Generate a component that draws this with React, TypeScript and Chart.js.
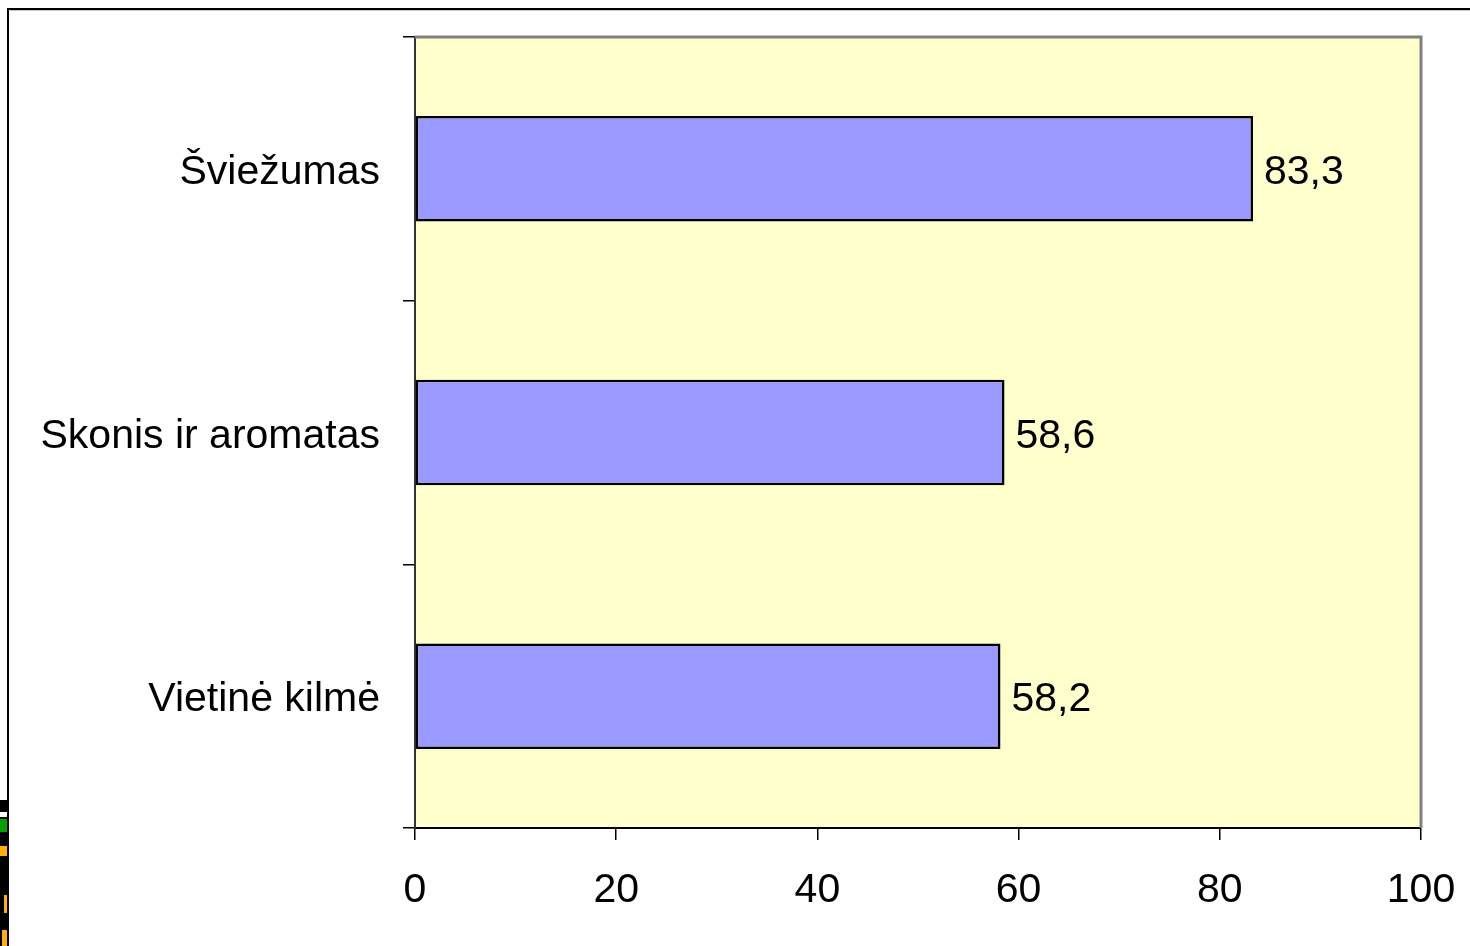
import React, { useEffect, useRef } from "react";
import { Chart, registerables } from "chart.js";

Chart.register(...registerables);

const categories = ["Šviežumas", "Skonis ir aromatas", "Vietinė kilmė"];
const values = [83.3, 58.6, 58.2];
const valueLabels = ["83,3", "58,6", "58,2"];
const xTicks = [0, 20, 40, 60, 80, 100];

const FONT = "'Liberation Sans', Arial, sans-serif";

const framePlugin = {
  id: "frame",
  beforeDraw(chart: any) {
    const { ctx, chartArea } = chart;
    ctx.save();
    ctx.fillStyle = "#ffffff";
    ctx.fillRect(0, 0, chart.width, chart.height);
    ctx.fillStyle = "#FFFFCC";
    ctx.fillRect(chartArea.left, chartArea.top, chartArea.right - chartArea.left, chartArea.bottom - chartArea.top);
    ctx.strokeStyle = "#000";
    ctx.lineWidth = 2;
    ctx.beginPath();
    ctx.moveTo(8, chart.height);
    ctx.lineTo(8, 9);
    ctx.lineTo(chart.width, 9);
    ctx.stroke();
    ctx.strokeStyle = "#c8c8c8";
    ctx.lineWidth = 1;
    ctx.beginPath();
    ctx.moveTo(10, 10.5);
    ctx.lineTo(chart.width, 10.5);
    ctx.stroke();
    ctx.fillStyle = "#000";
    ctx.fillRect(0, 800, 7, 146);
    ctx.fillStyle = "#ffffff";
    ctx.fillRect(0, 812, 7, 5);
    ctx.fillStyle = "#00a000";
    ctx.fillRect(0, 819, 7, 13);
    ctx.fillStyle = "#ffb000";
    ctx.fillRect(0, 846, 7, 10);
    ctx.fillRect(4, 895, 3, 18);
    ctx.fillRect(2, 930, 5, 16);
    ctx.restore();
  },
  afterDraw(chart: any) {
    const { ctx, chartArea } = chart;
    ctx.save();
    ctx.strokeStyle = "#808080";
    ctx.lineWidth = 3;
    ctx.beginPath();
    ctx.moveTo(chartArea.left, chartArea.top);
    ctx.lineTo(chartArea.right, chartArea.top);
    ctx.lineTo(chartArea.right, chartArea.bottom);
    ctx.stroke();
    ctx.restore();
  },
};

const valueLabelPlugin = {
  id: "valueLabels",
  afterDatasetsDraw(chart: any) {
    const { ctx } = chart;
    const meta = chart.getDatasetMeta(0);
    ctx.save();
    ctx.fillStyle = "#000";
    ctx.font = `41px ${FONT}`;
    ctx.textAlign = "left";
    ctx.textBaseline = "middle";
    meta.data.forEach((bar: any, i: number) => {
      ctx.fillText(valueLabels[i], bar.x + 11, bar.y + 4);
    });
    ctx.restore();
  },
};

export default function App() {
  const ref = useRef<HTMLCanvasElement>(null);
  useEffect(() => {
    if (!ref.current) return;
    const chart = new Chart(ref.current, {
      type: "bar",
      data: {
        labels: categories,
        datasets: [
          {
            data: values,
            backgroundColor: "#9999FF",
            borderColor: "#000000",
            borderWidth: 2.5,
            borderSkipped: false,
            barPercentage: 0.4,
            categoryPercentage: 1,
          },
        ],
      },
      options: {
        indexAxis: "y",
        animation: false,
        responsive: false,
        maintainAspectRatio: false,
        devicePixelRatio: 1,
        layout: { padding: { top: 37, right: 49, left: 0, bottom: 0 } },
        plugins: { legend: { display: false }, tooltip: { enabled: false } },
        scales: {
          x: {
            min: 0,
            max: 100,
            afterBuildTicks: (scale: any) => {
              scale.ticks = xTicks.map((v) => ({ value: v }));
            },
            afterFit: (scale: any) => {
              scale.height = 118;
              scale.paddingLeft = 0;
              scale.paddingRight = 0;
            },
            grid: {
              drawOnChartArea: false,
              drawTicks: true,
              tickLength: 12,
              color: "#000",
              lineWidth: 1.5,
            },
            border: { display: true, color: "#000", width: 2 },
            ticks: {
              color: "#000",
              font: { family: FONT, size: 41 },
              padding: 26,
              maxRotation: 0,
            },
          },
          y: {
            afterFit: (scale: any) => {
              scale.width = 415;
              scale.paddingTop = 0;
              scale.paddingBottom = 0;
            },
            grid: {
              drawOnChartArea: false,
              drawTicks: true,
              tickLength: 12,
              color: "#000",
              lineWidth: 1.5,
              offset: true,
            },
            border: { display: true, color: "#333", width: 2 },
            ticks: {
              color: "#000",
              font: { family: FONT, size: 41 },
              padding: 23,
              labelOffset: 4,
            },
          },
        },
      },
      plugins: [framePlugin, valueLabelPlugin],
    });
    return () => chart.destroy();
  }, []);
  return (
    <div style={{ position: "fixed", left: 0, top: 0, width: 1470, height: 946 }}>
      <canvas ref={ref} width={1470} height={946} style={{ width: 1470, height: 946, display: "block" }} />
    </div>
  );
}
